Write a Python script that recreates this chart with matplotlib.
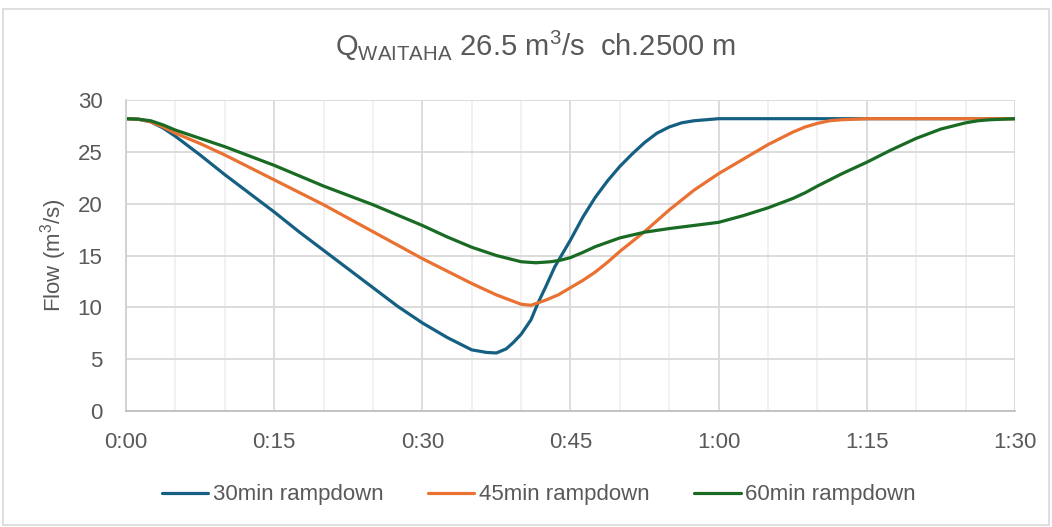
import matplotlib
matplotlib.use("Agg")
import matplotlib.pyplot as plt
from matplotlib.patches import Rectangle

plt.rcParams['font.family'] = ['Liberation Sans', 'DejaVu Sans']
plt.rcParams['mathtext.fontset'] = 'custom'
plt.rcParams['mathtext.rm'] = 'Liberation Sans'

# minutes since start of rampdown, flow
t_30 = [0, 1.25, 2.5, 3.75, 5, 6.25, 7.5, 10, 12.5, 15, 17.5, 20, 22.5, 25, 27.5, 30,
        32.5, 35, 36.5, 37.5, 38.5, 39.2, 40, 41, 41.7, 42.5, 43.4, 45, 46.25, 47.5,
        48.75, 50, 51.25, 52.5, 53.75, 55, 56.25, 57.5, 60, 65, 70, 75, 80, 85, 90]
q_30 = [28.2, 28.15, 27.9, 27.3, 26.5, 25.6, 24.7, 22.8, 21.0, 19.2, 17.3, 15.5, 13.7, 11.9, 10.1, 8.5,
        7.1, 5.9, 5.65, 5.6, 6.0, 6.6, 7.4, 8.8, 10.4, 12.0, 13.9, 16.5, 18.7, 20.6,
        22.2, 23.6, 24.8, 25.9, 26.8, 27.4, 27.8, 28.0, 28.2, 28.2, 28.2, 28.2, 28.2, 28.2, 28.2]

t_45 = [0, 1.25, 2.5, 3.75, 5, 7.5, 10, 12.5, 15, 17.5, 20, 22.5, 25, 27.5, 30, 32.5,
        35, 37.5, 40, 41, 42.5, 43.75, 45, 46.25, 47.5, 48.75, 50, 52.5, 55, 57.5, 60,
        62.5, 65, 67.5, 68.75, 70, 71.25, 72.5, 75, 80, 85, 90]
q_45 = [28.2, 28.15, 27.9, 27.4, 26.8, 25.8, 24.7, 23.5, 22.3, 21.1, 19.9, 18.6, 17.3, 16.0, 14.7, 13.5,
        12.3, 11.2, 10.3, 10.2, 10.7, 11.2, 11.9, 12.6, 13.4, 14.35, 15.4, 17.3, 19.4, 21.3, 22.9,
        24.3, 25.7, 26.9, 27.4, 27.75, 28.0, 28.1, 28.2, 28.2, 28.2, 28.2]

t_60 = [0, 1.25, 2.5, 3.75, 5, 7.5, 10, 12.5, 15, 17.5, 20, 22.5, 25, 27.5, 30, 32.5,
        35, 37.5, 40, 41.5, 43, 44, 45, 46.25, 47.5, 50, 52.5, 55, 57.5, 60, 62.5, 65,
        66.25, 67.5, 68.75, 70, 72.5, 75, 77.5, 80, 82.5, 85, 86.25, 87.5, 90]
q_60 = [28.2, 28.15, 28.0, 27.6, 27.1, 26.3, 25.5, 24.6, 23.7, 22.7, 21.7, 20.8, 19.9, 18.9, 17.9, 16.8,
        15.8, 15.0, 14.4, 14.3, 14.4, 14.55, 14.8, 15.3, 15.85, 16.7, 17.25, 17.6, 17.9, 18.2, 18.85, 19.6,
        20.05, 20.5, 21.05, 21.7, 22.9, 24.0, 25.2, 26.3, 27.2, 27.8, 28.0, 28.1, 28.2]

x_ticks = [0, 15, 30, 45, 60, 75, 90]
x_labels = ['0:00', '0:15', '0:30', '0:45', '1:00', '1:15', '1:30']

txt = '#595959'

fig = plt.figure(figsize=(10.52, 5.27), dpi=100)
ax = fig.add_axes([0.1198, 0.2201, 0.845, 0.5901])

ax.plot(t_30, q_30, color='#156082', lw=2.3, label='30min rampdown', solid_capstyle='round')
ax.plot(t_45, q_45, color='#E97132', lw=2.3, label='45min rampdown', solid_capstyle='round')
ax.plot(t_60, q_60, color='#196B24', lw=2.3, label='60min rampdown', solid_capstyle='round')

ax.set_xlim(0, 90)
ax.set_ylim(0, 30)
ax.set_xticks(x_ticks)
ax.set_xticklabels(x_labels)
ax.set_xticks(range(0, 91, 5), minor=True)
ax.set_yticks(range(0, 31, 5))
ax.tick_params(which='both', length=0, labelsize=16, colors=txt)
ax.tick_params(axis='x', pad=15)
ax.tick_params(axis='y', pad=17)

ax.grid(True, which='major', color='#d9d9d9', lw=1.3)
ax.grid(True, which='minor', axis='x', color='#f0f0f0', lw=1.3)
ax.set_axisbelow(True)
for s in ['top', 'right']:
    ax.spines[s].set_visible(False)
ax.spines['left'].set_color('#d0d0d0')
ax.spines['bottom'].set_color('#bfbfbf')
ax.spines['left'].set_linewidth(1.3)
ax.spines['bottom'].set_linewidth(1.3)

ax.set_ylabel('Flow (m$^3$/s)', fontsize=16, color=txt)
ax.yaxis.set_label_coords(-0.064, 0.5)

fig.text(0.509, 0.912, r'Q$_{\mathrm{WAITAHA}}$ 26.5 m$^3$/s  ch.2500 m',
         ha='center', va='center', fontsize=21, color=txt)

fig.legend(loc='center', bbox_to_anchor=(0.512, 0.061), ncol=3, frameon=False,
           fontsize=16, labelcolor=txt, handlelength=2.1, handletextpad=0.2,
           columnspacing=2.0)

fig.patches.append(Rectangle((0.003, 0.003), 0.994, 0.98, transform=fig.transFigure,
                             fill=False, edgecolor='#d9d9d9', lw=1.2))

fig.savefig('out.png', dpi=100)
